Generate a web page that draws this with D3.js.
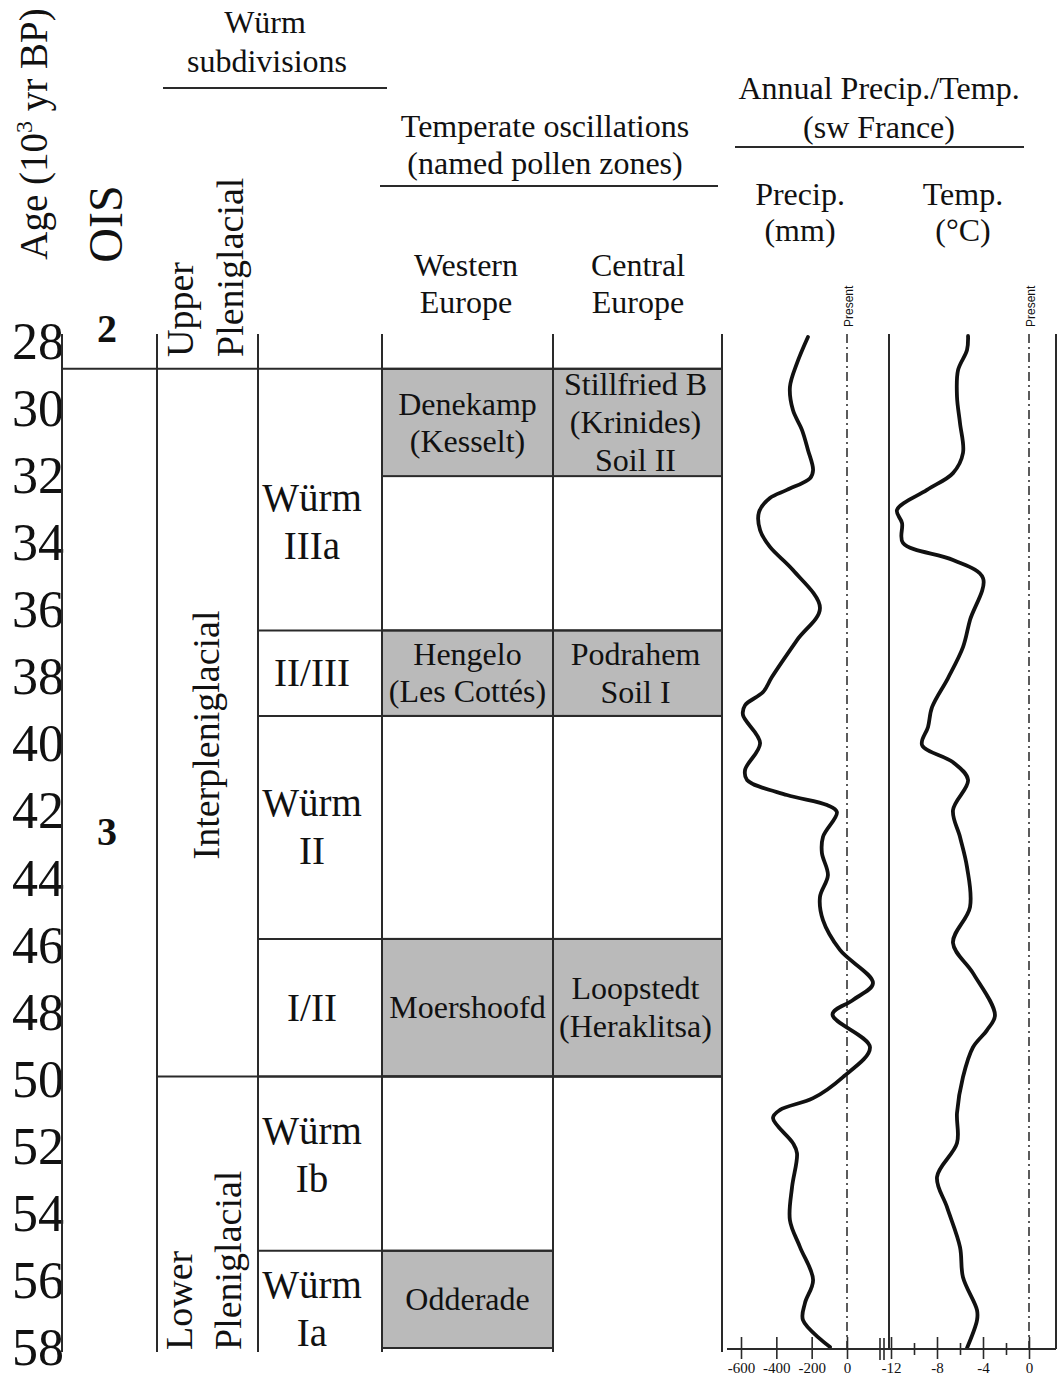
<!DOCTYPE html>
<html>
<head>
<meta charset="utf-8">
<script src="https://cdn.jsdelivr.net/npm/d3@7"></script>
<style>
  body { margin: 0; background: #fff; }
  svg text { font-family: "Liberation Serif", "Times New Roman", serif; fill: #111; }
</style>
</head>
<body>
<div id="chart"></div>
<script>
// ---- data ----
var ageTicks = [28, 30, 32, 34, 36, 38, 40, 42, 44, 46, 48, 50, 52, 54, 56, 58];

var oisStages = [
  {label: "2", age: 28},
  {label: "3", age: 43.0}
];

var pleniPeriods = [
  {lines: ["Upper", "Pleniglacial"], from: 27.75, to: 28.8},
  {lines: ["Interpleniglacial"], from: 28.8, to: 49.9},
  {lines: ["Lower", "Pleniglacial"], from: 49.9, to: 58}
];

var wurmSubs = [
  {lines: ["Würm", "IIIa"], from: 28.8, to: 36.6},
  {lines: ["II/III"], from: 36.6, to: 39.15},
  {lines: ["Würm", "II"], from: 39.15, to: 45.8},
  {lines: ["I/II"], from: 45.8, to: 49.9},
  {lines: ["Würm", "Ib"], from: 49.9, to: 55.1},
  {lines: ["Würm", "Ia"], from: 55.1, to: 58}
];

var westZones = [
  {lines: ["Denekamp", "(Kesselt)"], from: 28.8, to: 32},
  {lines: ["Hengelo", "(Les Cottés)"], from: 36.6, to: 39.15},
  {lines: ["Moershoofd"], from: 45.8, to: 49.9},
  {lines: ["Odderade"], from: 55.1, to: 58}
];

var centralZones = [
  {lines: ["Stillfried B", "(Krinides)", "Soil II"], from: 28.8, to: 32},
  {lines: ["Podrahem", "Soil I"], from: 36.6, to: 39.15},
  {lines: ["Loopstedt", "(Heraklitsa)"], from: 45.8, to: 49.9}
];

// precipitation anomaly (mm) vs present
var precipAge = [27.85, 28.63, 29.34, 30.03, 30.62, 31.22, 31.82, 32.06, 32.41, 32.65, 33.07, 33.61, 34.11, 34.8, 35.93,
  36.89, 37.99, 38.44, 38.83, 39.12, 39.96, 40.76, 41.06, 41.51, 41.81, 42.02, 42.76, 43.24, 43.9, 44.55, 45.24,
  46.13, 47.12, 47.62, 48.05, 49.03, 49.92, 50.55, 50.9, 51.14, 51.89, 52.19, 53.2, 54.19, 54.99, 55.97, 56.66, 57.17, 57.97];
var precipVal = [-221, -283, -323, -306, -255, -221, -192, -209, -340, -436, -498, -492, -436, -306, -153,
  -283, -425, -475, -577, -589, -492, -577, -566, -340, -113, -57, -136, -142, -108, -153, -136,
  -40, 147, 34, -82, 130, -23, -192, -379, -419, -306, -283, -311, -323, -266, -192, -238, -249, -96];

// temperature anomaly (°C) vs present
var tempAge = [27.82, 28.24, 28.84, 29.64, 30.42, 31.31, 31.91, 32.41, 33.01, 33.4, 33.99, 34.5, 35.04, 36.29, 37.1,
  38.02, 38.89, 39.48, 40.02, 40.53, 41.06, 41.96, 42.76, 43.66, 44.85, 45.92, 46.82, 48.07, 48.52, 49.03, 49.92,
  50.99, 51.89, 52.9, 53.8, 54.99, 55.89, 56.87, 57.17, 58.0];
var tempVal = [-5.3, -5.39, -6.17, -6.26, -6.0, -5.74, -6.61, -8.87, -11.48, -11.04, -10.96, -6.61, -4.0, -5.13, -5.74,
  -7.04, -8.43, -8.78, -9.3, -6.61, -5.3, -6.61, -6.0, -5.39, -5.13, -6.61, -4.87, -2.96, -3.65, -4.87, -5.74,
  -6.26, -6.26, -8.0, -7.13, -6.0, -5.74, -4.52, -4.52, -5.39];

var precipTicks = [-600, -400, -200, 0];
var tempTicks = [-12, -8, -4, 0];
var tempMinor = [-10, -6, -2];

// ---- layout ----
var w = 1059, h = 1378;
var col = {age: 62, ois: 157, pleni: 258, wurm: 382, west: 553, central: 722};
var panel = {pLeft: 724, pRight: 889, tRight: 1056, top: 334};
var axisY = 1349;
var lineColor = "#2a2a2a";
var shade = "#bababa";
var hfs = 32; // header / box font size

var svg = d3.select("#chart").append("svg")
  .attr("width", w)
  .attr("height", h);

var y = d3.scaleLinear().domain([28, 58]).range([342, 1348]);
var px = d3.scaleLinear().domain([-600, 0]).range([741, 847]);
var tx = d3.scaleLinear().domain([-12, 0]).range([891, 1029]);

function hline(x1, x2, yy) {
  svg.append("line").attr("x1", x1).attr("x2", x2).attr("y1", yy).attr("y2", yy)
    .attr("stroke", lineColor).attr("stroke-width", 2);
}
function vline(xx, y1, y2) {
  svg.append("line").attr("x1", xx).attr("x2", xx).attr("y1", y1).attr("y2", y2)
    .attr("stroke", lineColor).attr("stroke-width", 2);
}
function label(x, yy, t, fs) {
  svg.append("text").attr("x", x).attr("y", yy).attr("text-anchor", "middle")
    .style("font-size", (fs || hfs) + "px").text(t);
}
function textLines(lines, cx, cy, fs, lh) {
  var n = lines.length;
  lines.forEach(function(t, i) {
    label(cx, cy + (i - (n - 1) / 2) * lh + fs * 0.33, t, fs);
  });
}

// ---- header ----
var ageLab = svg.append("text")
  .attr("transform", "translate(47,134) rotate(-90)")
  .attr("text-anchor", "middle")
  .style("font-size", "39px");
ageLab.append("tspan").text("Age (10");
ageLab.append("tspan").attr("dy", -15).style("font-size", "24px").text("3");
ageLab.append("tspan").attr("dy", 15).text(" yr BP)");

svg.append("text")
  .attr("transform", "translate(122,224) rotate(-90)")
  .attr("text-anchor", "middle")
  .style("font-size", "48px")
  .text("OIS");

label(265, 33, "Würm");
label(267, 72, "subdivisions");
hline(163, 387, 88);

label(545, 137, "Temperate oscillations");
label(545, 174, "(named pollen zones)");
hline(380, 718, 186);

label(466, 276, "Western");
label(466, 313, "Europe");
label(638, 276, "Central");
label(638, 313, "Europe");

label(879, 99, "Annual Precip./Temp.");
label(879, 138, "(sw France)");
hline(735, 1024, 147);

label(800, 205, "Precip.");
label(800, 241, "(mm)");
label(963, 205, "Temp.");
label(963, 241, "(°C)");

// ---- age labels ----
svg.selectAll(".agetick")
  .data(ageTicks)
  .enter()
  .append("text")
  .attr("class", "agetick")
  .attr("x", col.age + 2)
  .attr("y", function(d) { return y(d) + 17; })
  .attr("text-anchor", "end")
  .style("font-size", "52px")
  .text(function(d) { return d; });

// ---- shaded pollen zones ----
svg.selectAll(".west")
  .data(westZones)
  .enter()
  .append("rect")
  .attr("x", col.wurm).attr("width", col.west - col.wurm)
  .attr("y", function(d) { return y(d.from); })
  .attr("height", function(d) { return y(d.to) - y(d.from); })
  .attr("fill", shade).attr("stroke", lineColor).attr("stroke-width", 2);

svg.selectAll(".central")
  .data(centralZones)
  .enter()
  .append("rect")
  .attr("x", col.west).attr("width", col.central - col.west)
  .attr("y", function(d) { return y(d.from); })
  .attr("height", function(d) { return y(d.to) - y(d.from); })
  .attr("fill", shade).attr("stroke", lineColor).attr("stroke-width", 2);

westZones.forEach(function(d) {
  textLines(d.lines, (col.wurm + col.west) / 2, (y(d.from) + y(d.to)) / 2, hfs, 37);
});
centralZones.forEach(function(d) {
  textLines(d.lines, (col.west + col.central) / 2 - 2, (y(d.from) + y(d.to)) / 2, hfs, 38);
});

// ---- table grid ----
var tableBottom = 1352;
[col.age, col.ois, col.pleni, col.wurm, col.west, col.central].forEach(function(xx) {
  vline(xx, panel.top, tableBottom);
});
hline(col.age, col.central, y(28.8));
hline(col.ois, col.central, y(49.9));
wurmSubs.slice(1).forEach(function(d) {
  var right = d.from > 50 ? col.west : col.central;
  hline(col.pleni, right, y(d.from));
});

// Würm subdivision labels
var wurmShift = {"IIIa": 23, "Ib": -8, "Ia": 10};
wurmSubs.forEach(function(d) {
  var last = d.lines[d.lines.length - 1];
  var shift = wurmShift[last] || 0;
  textLines(d.lines, 312, (y(d.from) + y(d.to)) / 2 + shift, 39, 48);
});

// OIS numbers
svg.selectAll(".ois")
  .data(oisStages)
  .enter()
  .append("text")
  .attr("x", 107)
  .attr("y", function(d) { return y(d.age); })
  .attr("text-anchor", "middle")
  .style("font-size", "40px")
  .style("font-weight", "bold")
  .text(function(d) { return d.label; });

// pleniglacial labels (rotated)
var pleniLayout = [
  {anchor: "start", y: 357, xs: [193, 243]},
  {anchor: "middle", y: 735, xs: [219]},
  {anchor: "start", y: 1350, xs: [192, 241]}
];
pleniPeriods.forEach(function(d, i) {
  var L = pleniLayout[i];
  d.lines.forEach(function(t, j) {
    svg.append("text")
      .attr("transform", "translate(" + L.xs[j] + "," + L.y + ") rotate(-90)")
      .attr("text-anchor", L.anchor)
      .style("font-size", "38px")
      .text(t);
  });
});

// ---- climate panels ----
vline(panel.pRight, panel.top, axisY);
vline(panel.tRight, panel.top, axisY);

[{x: px(0)}, {x: tx(0)}].forEach(function(p) {
  svg.append("line")
    .attr("x1", p.x).attr("x2", p.x).attr("y1", panel.top).attr("y2", axisY)
    .attr("stroke", "#333").attr("stroke-width", 1.6)
    .attr("stroke-dasharray", "9,4,2,4");
  svg.append("text")
    .attr("transform", "translate(" + (p.x + 6) + ",327) rotate(-90)")
    .attr("text-anchor", "start")
    .style("font-family", "'Liberation Sans', Arial, sans-serif")
    .style("font-size", "12px")
    .text("Present");
});

var precipData = precipAge.map(function(a, i) { return {age: a, v: precipVal[i]}; });
var tempData = tempAge.map(function(a, i) { return {age: a, v: tempVal[i]}; });

var precipLine = d3.line()
  .x(function(d) { return px(d.v); })
  .y(function(d) { return y(d.age); })
  .curve(d3.curveCatmullRom.alpha(0.5));
var tempLine = d3.line()
  .x(function(d) { return tx(d.v); })
  .y(function(d) { return y(d.age); })
  .curve(d3.curveCatmullRom.alpha(0.5));

svg.append("path").datum(precipData)
  .attr("d", precipLine)
  .attr("fill", "none").attr("stroke", "#111").attr("stroke-width", 3.8)
  .attr("stroke-linejoin", "round").attr("stroke-linecap", "round");
svg.append("path").datum(tempData)
  .attr("d", tempLine)
  .attr("fill", "none").attr("stroke", "#111").attr("stroke-width", 3.8)
  .attr("stroke-linejoin", "round").attr("stroke-linecap", "round");

// ---- bottom axes ----
hline(727, panel.tRight, axisY);
[880, 884].forEach(function(xx) {
  svg.append("line").attr("x1", xx).attr("x2", xx).attr("y1", axisY - 11).attr("y2", axisY + 11)
    .attr("stroke", lineColor).attr("stroke-width", 1.6);
});

function styleAxis(g) {
  g.select(".domain").remove();
  g.selectAll(".tick line").attr("y1", -12).attr("y2", 10).attr("stroke", lineColor).attr("stroke-width", 1.6);
  g.selectAll(".tick text")
    .style("font-family", "'Liberation Serif', 'Times New Roman', serif")
    .style("font-size", "15px")
    .attr("fill", "#222");
}

svg.append("g")
  .attr("transform", "translate(0," + axisY + ")")
  .call(d3.axisBottom(px).tickValues(precipTicks).tickSize(0).tickPadding(13).tickFormat(function(d) { return String(d); }))
  .call(styleAxis);

svg.append("g")
  .attr("transform", "translate(0," + axisY + ")")
  .call(d3.axisBottom(tx).tickValues(tempTicks).tickSize(0).tickPadding(13).tickFormat(function(d) { return String(d); }))
  .call(styleAxis);

svg.append("g")
  .attr("transform", "translate(0," + axisY + ")")
  .call(d3.axisBottom(tx).tickValues(tempMinor).tickSize(0).tickFormat(""))
  .call(function(g) {
    g.select(".domain").remove();
    g.selectAll(".tick line").attr("y1", -6).attr("y2", 6).attr("stroke", lineColor).attr("stroke-width", 1.6);
  });
</script>
</body>
</html>
